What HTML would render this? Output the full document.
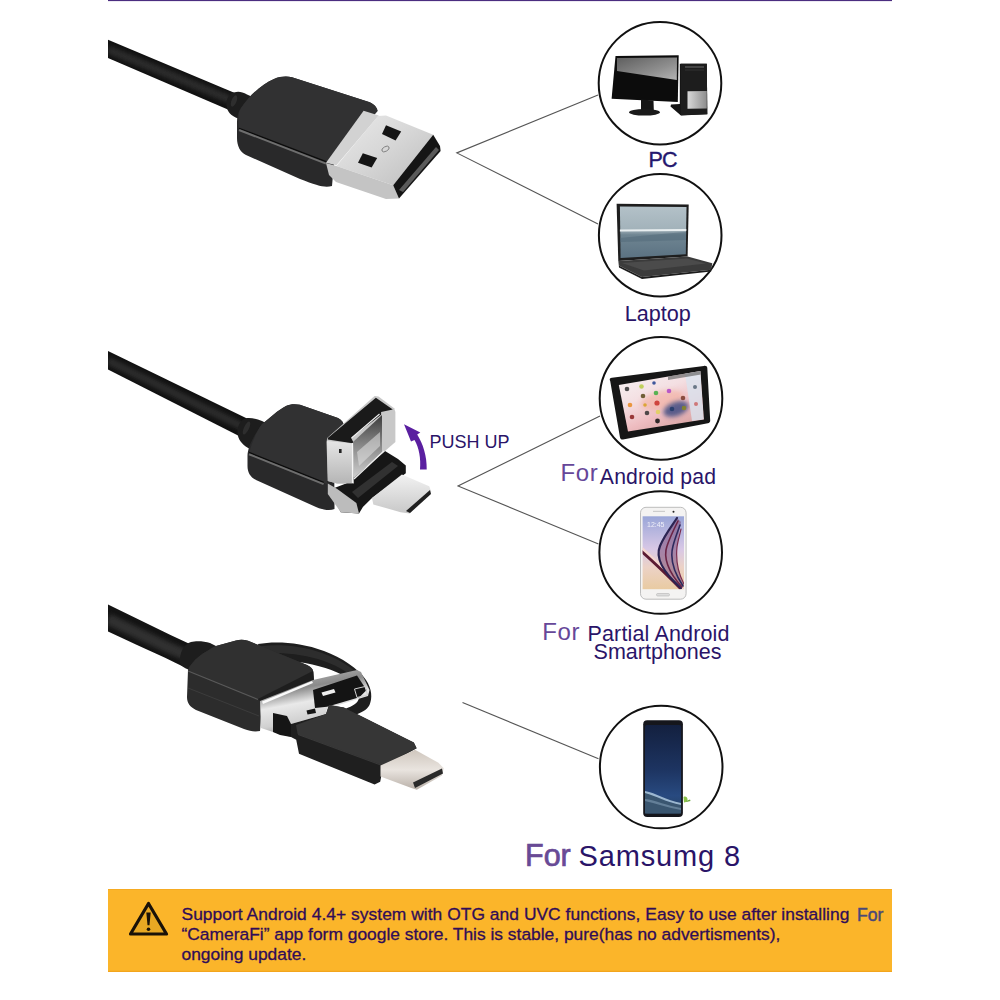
<!DOCTYPE html>
<html><head><meta charset="utf-8"><style>
html,body{margin:0;padding:0;background:#fff;width:1000px;height:1000px;overflow:hidden}
svg{display:block}
text{font-family:"Liberation Sans",sans-serif}
</style></head><body>
<svg width="1000" height="1000" viewBox="0 0 1000 1000">
<defs>
<linearGradient id="shellin" x1="0" y1="0" x2="0" y2="1"><stop offset="0" stop-color="#3c3c3c"/><stop offset="0.5" stop-color="#8a8a8a"/><stop offset="1" stop-color="#d0d0d0"/></linearGradient>
<clipPath id="cl1"><path d="M108,39.8 L236,93.5 L229,110 L108,58 Z"/></clipPath>
<clipPath id="cl2"><path d="M108,351 L247,418.5 L240,436.5 L108,369.5 Z"/></clipPath>
<clipPath id="cl3"><path d="M108,604.5 L150,625 Q170,635 192,645 L184,667 C160,655 130,642 108,631.5 Z"/></clipPath>
<clipPath id="s6clip"><rect x="642.6" y="516.3" width="41.4" height="72.9"/></clipPath>
<filter id="blur2" x="-50%" y="-50%" width="200%" height="200%"><feGaussianBlur stdDeviation="2"/></filter>
<filter id="blur1" x="-50%" y="-50%" width="200%" height="200%"><feGaussianBlur stdDeviation="0.6"/></filter>
<clipPath id="tabclip"><path d="M618.8,384.9 L700.4,371.1 L703.9,419.4 L628,431.5 Z"/></clipPath>

<linearGradient id="pcscr" x1="0" y1="0" x2="1" y2="1">
<stop offset="0" stop-color="#5e5e5e"/><stop offset="0.6" stop-color="#8e8e8e"/><stop offset="1" stop-color="#b4b4b4"/>
</linearGradient>
<linearGradient id="pcbay" x1="0" y1="0" x2="1" y2="0">
<stop offset="0" stop-color="#d9d9d9"/><stop offset="1" stop-color="#8d8d8d"/>
</linearGradient>
<linearGradient id="lapscr" x1="0" y1="0" x2="0" y2="1">
<stop offset="0" stop-color="#b3c1c8"/><stop offset="0.45" stop-color="#a2b2ba"/><stop offset="0.55" stop-color="#6f8592"/><stop offset="1" stop-color="#5b7282"/>
</linearGradient>
<linearGradient id="tabscr" x1="0" y1="0" x2="0.6" y2="1">
<stop offset="0" stop-color="#f7f5f6"/><stop offset="0.45" stop-color="#f4dfe2"/><stop offset="0.75" stop-color="#eebcc0"/><stop offset="1" stop-color="#d9a6a6"/>
</linearGradient>
<linearGradient id="s6scr" x1="0" y1="0" x2="0" y2="1">
<stop offset="0" stop-color="#9aa6d8"/><stop offset="0.45" stop-color="#d8c8e6"/><stop offset="0.7" stop-color="#ecd2c6"/><stop offset="1" stop-color="#e9cba2"/>
</linearGradient>
<linearGradient id="s8scr" x1="0" y1="0" x2="0" y2="1">
<stop offset="0" stop-color="#13203f"/><stop offset="0.5" stop-color="#1d3461"/><stop offset="0.8" stop-color="#284a80"/><stop offset="1" stop-color="#25405e"/>
</linearGradient>

<linearGradient id="met2" x1="0" y1="0" x2="0" y2="1">
<stop offset="0" stop-color="#f2f2f2"/><stop offset="1" stop-color="#c8c8c8"/>
</linearGradient>
<linearGradient id="met3" x1="0" y1="0" x2="0" y2="1">
<stop offset="0" stop-color="#e5e5e5"/><stop offset="1" stop-color="#b5b5b5"/>
</linearGradient>
<linearGradient id="met4" x1="0" y1="0" x2="0.3" y2="1">
<stop offset="0" stop-color="#c9c9c9"/><stop offset="0.35" stop-color="#8a8a8a"/><stop offset="0.55" stop-color="#e9e9e9"/><stop offset="0.8" stop-color="#d0d0d0"/><stop offset="1" stop-color="#8c8c8c"/>
</linearGradient>
<linearGradient id="met5" x1="0" y1="0" x2="0" y2="1">
<stop offset="0" stop-color="#cfc6bd"/><stop offset="0.5" stop-color="#e9e4df"/><stop offset="1" stop-color="#b9b0a8"/>
</linearGradient>

<linearGradient id="cab1" x1="0" y1="0" x2="0.15" y2="1">
<stop offset="0" stop-color="#111"/><stop offset="0.45" stop-color="#2b2b2b"/><stop offset="1" stop-color="#121212"/>
</linearGradient>
<linearGradient id="met1" x1="0" y1="0" x2="1" y2="1">
<stop offset="0" stop-color="#eaeaea"/><stop offset="0.5" stop-color="#d6d6d6"/><stop offset="1" stop-color="#bdbdbd"/>
</linearGradient>
</defs>
<rect x="0" y="0" width="1000" height="1000" fill="#fff"/>
<!-- top purple line -->
<rect x="108" y="0" width="784" height="1.1" fill="#4b2d80"/>

<!-- connector lines -->
<g stroke="#555" stroke-width="1.1" fill="none">
<polyline points="598,95 456.8,152.9 598,224"/>
<polyline points="600,416 458,486 598.5,544"/>
<line x1="462.5" y1="702.5" x2="598.5" y2="758.7"/>
</g>

<!-- circles -->
<g stroke="#111" stroke-width="2" fill="#fff">
<circle cx="660" cy="83.2" r="61.3"/>
<circle cx="660.2" cy="235.2" r="61.3"/>
<circle cx="661" cy="398.4" r="61.3"/>
<circle cx="660.7" cy="552.5" r="61.3"/>
<circle cx="661.2" cy="767" r="61.3"/>
</g>


<!-- ===== DEVICES ===== -->
<!-- PC -->
<g id="pc">
<path d="M615.5,56 L678.7,55.3 L677.8,102 L611.6,98.8 Z" fill="#0c0c0c"/>
<path d="M617,58 L677,57.5 L676.8,80 L617,71 Z" fill="url(#pcscr)"/>
<path d="M641,99.5 L653.5,100.5 L653.8,110 L641,110 Z" fill="#151515"/>
<ellipse cx="644.5" cy="112.3" rx="15.5" ry="3.3" fill="#1a1a1a"/>
<path d="M679.8,63.7 L706.8,63.7 L707.3,114.3 L680.9,115.4 L670.5,106.6 L671,104.4 L679.8,104 Z" fill="#161616"/>
<path d="M681,63.7 L706.8,63.7 L707.3,114.3 L681,115.2 Z" fill="#1d1d1d"/>
<path d="M687.5,91.2 L706.8,91 L706.8,108.6 L687.5,108.8 Z" fill="url(#pcbay)"/>
<path d="M685,66 L704,66 L704,68 L685,68 Z" fill="#444"/>
<path d="M685,69.5 L704,69.5 L704,70.5 L685,70.5 Z" fill="#333"/>
</g>
<!-- Laptop -->
<g id="laptop">
<path d="M616.6,203.8 L688.7,204.4 L687.6,256.6 L618.3,261 Z" fill="#1e1e1e"/>
<path d="M619.9,206.6 L686.5,207 L685.8,254.2 L620.6,258 Z" fill="url(#lapscr)"/>
<path d="M619.9,229.5 L686.3,229 L686.3,231 L619.9,231.5 Z" fill="#e8eef0"/>
<path d="M620,238 C640,236 660,234 686,232 L686,240 C665,241 645,241 620,242 Z" fill="#4f6777" opacity="0.5"/>
<path d="M618.3,261 L687.6,256.6 L712.3,263.2 L711.2,269.8 L641.9,277 L618.8,265.4 Z" fill="#3b3b3b"/>
<path d="M622,263 L687,258.6 L706,263.5 L644,270.5 Z" fill="#4b4b4b"/>
<path d="M618.8,265.4 L641.9,277 L711.2,269.8 L711.2,271.5 L642,279 L619,267.5 Z" fill="#1c1c1c"/>
</g>
<!-- Tablet -->
<g id="tablet">
<path d="M610.2,381 C609,379 610,378 612,377.8 L703.9,365.9 C706,365.6 707.2,366.5 707.3,368 L710.2,420.5 C710.3,422 709.4,423 707.8,423.3 L623,439.5 C621.5,439.8 620.3,439 620,437.5 Z" fill="#161616"/>
<path d="M618.8,384.9 L700.4,371.1 L703.9,419.4 L628,431.5 Z" fill="url(#tabscr)"/>
<g clip-path="url(#tabclip)">
<ellipse cx="662" cy="400" rx="22" ry="9" fill="#f3b0a0" opacity="0.6" transform="rotate(-12 662 400)" filter="url(#blur2)"/>
<ellipse cx="676" cy="409" rx="13" ry="7" fill="#34457e" opacity="0.8" transform="rotate(-20 676 409)" filter="url(#blur2)"/>
<path d="M685,373.5 L700.4,371.1 L703.9,419.4 L692,421 Z" fill="#d9e4ef" opacity="0.8"/>
<path d="M668,376 L701,370.5 L701,374.5 L668,380 Z" fill="#6a6a6a" opacity="0.7"/>
</g>
<g opacity="0.85">
<circle cx="627" cy="389" r="2.3" fill="#333"/>
<circle cx="641.5" cy="386.5" r="2.3" fill="#b7cc44"/>
<circle cx="654" cy="383" r="1.8" fill="#1f3f8f"/>
<circle cx="656" cy="393" r="2.3" fill="#3fae3f"/>
<circle cx="669" cy="391" r="2.3" fill="#b046c8"/>
<circle cx="643" cy="396" r="2.3" fill="#5a4a1a"/>
<circle cx="657" cy="403" r="2.6" fill="#c9312a"/>
<circle cx="630" cy="405" r="2.3" fill="#e98a23"/>
<circle cx="645" cy="405" r="1.8" fill="#d8a020"/>
<circle cx="683" cy="398" r="2.3" fill="#7a3a2a"/>
<circle cx="672" cy="409" r="2.3" fill="#223a6a"/>
<circle cx="684" cy="408" r="2.3" fill="#882"/>
<circle cx="647" cy="413" r="2.3" fill="#333"/>
<circle cx="658" cy="412" r="2.3" fill="#e1d25a"/>
<circle cx="632" cy="417" r="2.3" fill="#8a1f1f"/>
<circle cx="657.5" cy="421" r="2.4" fill="#111"/>
<circle cx="695" cy="387" r="2" fill="#567"/>
<circle cx="696" cy="404" r="2" fill="#c66"/>
</g>
</g>
<!-- Galaxy S6 -->
<g id="s6">
<rect x="640.5" y="507.3" width="45.6" height="91.9" rx="5.5" fill="#f4f3f2" stroke="#b5b5b5" stroke-width="0.9"/>
<rect x="642.6" y="516.3" width="41.4" height="72.9" fill="url(#s6scr)"/>
<g clip-path="url(#s6clip)" fill="none" stroke-linecap="round">
<path d="M641,549 C655,562 668,574 681,588" stroke="#f4d6d0" stroke-width="5"/>
<path d="M641,551 C655,563 667,575 680,588" stroke="#5b1b33" stroke-width="3"/>
<path d="M681,588 C664,573 655,558 660,546 C664,536 671,527 677,518 L681,522 C679,532 678,540 677,547 C676,557 677,571 684,584 Z" fill="#7a4a78" stroke="none" opacity="0.55"/>
<path d="M681,588 C664,573 655,558 660,546 C664,536 671,527 677,518" stroke="#2b2452" stroke-width="2.2"/>
<path d="M682,587 C668,572 663,557 667,546 C670,537 674,529 678,521" stroke="#6b2446" stroke-width="1.6"/>
<path d="M683,586 C673,571 670,557 673,546 C675,538 678,531 680,525" stroke="#2d2a5e" stroke-width="1.6"/>
<path d="M684,584 C677,571 676,557 677,547 C678,540 680,534 681,529" stroke="#7a2c4e" stroke-width="1.2"/>
</g>
<rect x="656.5" y="593.5" width="13" height="2.5" rx="1.2" fill="#ddd" stroke="#aaa" stroke-width="0.5"/>
<circle cx="673.5" cy="511.7" r="1" fill="#222"/>
<rect x="653" y="510.8" width="12" height="1.2" fill="#ccc"/>
<text x="647" y="527" font-size="7" fill="#fff" opacity="0.8">12:45</text>
</g>
<!-- Galaxy S8 -->
<g id="s8">
<rect x="643.2" y="720.3" width="39.7" height="96.6" rx="4" fill="#15161c"/>
<rect x="645" y="725" width="36.1" height="88.4" rx="2" fill="url(#s8scr)"/>
<path d="M645,792 C655,795 665,802 681,805 L681,813.4 L645,813.4 Z" fill="#3a5670"/>
<path d="M645,799 C655,800 668,806 681,808 L681,810 C668,808 655,803 645,801 Z" fill="#7f9bb2" opacity="0.6"/>
<path d="M645,791 C656,793 666,800 681,803 L681,805 C666,802 656,796 645,793 Z" fill="#b9d3e6" opacity="0.8"/>
<path d="M683.5,797 c2,-1 4,0 4,2.5 c0,2 -2,3 -3.5,3 Z" fill="#8bc34a"/>
<path d="M686,801 l4,-1.5 l0.5,1.5 l-4,1 Z" fill="#6aa73a"/>
</g>

<!-- labels -->
<g fill="#2a1468">
<text x="648.6" y="166.5" font-size="21.5" fill="#24176e" stroke="#24176e" stroke-width="0.4" letter-spacing="-0.9">PC</text>
<text x="624.8" y="321.3" font-size="21.6">Laptop</text>
<text x="560.6" y="481" font-size="24" fill="#664799" letter-spacing="0.6">For</text>
<text x="599.8" y="483.8" font-size="21.2" letter-spacing="0.2">Android pad</text>
<text x="542.3" y="640.2" font-size="24" fill="#664799" letter-spacing="0.6">For</text>
<text x="587.5" y="640.5" font-size="21.5" letter-spacing="0.15">Partial Android</text>
<text x="593.6" y="659" font-size="21.5">Smartphones</text>
<text x="525" y="866.2" font-size="30.5" fill="#684a95" stroke="#684a95" stroke-width="0.7">For</text>
<text x="578.5" y="866" font-size="29" letter-spacing="0.85">Samsumg 8</text>
<text x="429.5" y="447.5" font-size="18">PUSH UP</text>
</g>

<!-- ===== CABLE 1 ===== -->
<g id="c1">
<path d="M108,39.8 L236,93.5 L229,110 L108,58 Z" fill="#121212"/>
<path d="M108,49.5 L231,100" stroke="#353535" stroke-width="8" opacity="0.75" filter="url(#blur2)" clip-path="url(#cl1)"/>
<path d="M227,108 C225,100 229,93 234,92.5 C238,91 242,91.6 247,94.5 L262,101 L254,122 L240,119 C233,117 228,113 227,108 Z" fill="#1d1d1d"/>
<ellipse cx="234" cy="101" rx="2.5" ry="6" fill="#3a3a3a" transform="rotate(22 234 101)" opacity="0.6"/>
<path d="M241,108 C250,95 262,84 274,79 C280,76.5 286,76 292,77.2 L369,102 C374,104 377,107 377.5,111 L334,163 L332,186 C325,188 318,186 300,179 L246,155 C240,152 237,146 237,138 L237,124 C237,117 238,112 241,108 Z" fill="#29292a"/>
<path d="M241,108 C250,95 262,84 274,79 C280,76.5 286,76 292,77.2 L369,102 C374,104 377,107 377.5,111 L328,163 L239,129 C238,120 238,113 241,108 Z" fill="#313132"/>
<path d="M239,128.3 L328,162.3" stroke="#0c0c0c" stroke-width="1.4"/>
<path d="M239,130 L326,163.6" stroke="#6e6e6e" stroke-width="2"/>
<!-- metal collar -->
<path d="M363.6,110.8 L378.8,115.6 L336.4,165.2 L326,162.8 Z" fill="#d2d2d2"/>
<!-- metal top face -->
<path d="M378,116 L386,115.4 L433.2,134.8 L393.2,185.2 L336.4,166 Z" fill="url(#met1)"/>
<!-- metal bottom/side -->
<path d="M326,163 L336.4,166 L393.2,185.2 L399,198.5 L386,199 L336,182 L329,175 Z" fill="#c4c4c4"/>
<!-- right slot face -->
<path d="M433.2,134.8 L440,146 L440.6,151 L399,198.5 L393.2,185.2 Z" fill="#151515"/>
<path d="M436,147 L439,150 L403,192 L399,190 Z" fill="#5a5a5a"/>
<!-- holes -->
<path d="M386,125.2 L401.2,131.6 L395.6,140.4 L382,134 Z" fill="#141414"/>
<path d="M362.8,153.2 L377.2,158 L371.6,167.6 L358,162.8 Z" fill="#141414"/>
<ellipse cx="385.5" cy="149" rx="4" ry="2.3" fill="none" stroke="#777" stroke-width="0.8" transform="rotate(-30 385.5 149)"/>
</g>


<!-- ===== CABLE 2 ===== -->
<g id="c2">
<path d="M108,351 L247,418.5 L240,436.5 L108,369.5 Z" fill="#121212"/>
<path d="M108,360.5 L243,427" stroke="#353535" stroke-width="8" opacity="0.75" filter="url(#blur2)" clip-path="url(#cl2)"/>
<path d="M238,436 C236,428 240,420 246,418.3 C250,417.5 256,418.6 262,421 L276,428 L262,452 L250,449 C244,446 239,441 238,436 Z" fill="#1d1d1d"/>
<ellipse cx="246.5" cy="428" rx="2.5" ry="7" fill="#3a3a3a" transform="rotate(26 246.5 428)" opacity="0.6"/>
<path d="M262,424 C270,418 278,410 286,406 C290,404 295,403.6 300,404.8 L338,418 C342,420 344,423 344,427 L334,440 L334.5,509 C330,511 323,510 316,507 L256,480 C250,477 247.5,472 247.5,466 L247.5,456 C247.5,449 252,438 262,424 Z" fill="#29292a"/>
<path d="M262,424 C270,418 278,410 286,406 C290,404 295,403.6 300,404.8 L338,418 C342,420 344,423 344,427 L328,440 L327,484 L249,453.5 C251,445 255,434 262,424 Z" fill="#313132"/>
<path d="M249,452.5 L323.6,482.4" stroke="#0c0c0c" stroke-width="1.4"/>
<path d="M249,454.2 L323.6,484.1" stroke="#6e6e6e" stroke-width="2"/>
<!-- micro-usb black holder -->
<path d="M346,483.6 L385,451.1 L398,458.9 L405.8,465.4 L405.8,473.2 L372,497.9 L362.9,507 L359,513.5 L340.8,512.2 L329.1,490.1 Z" fill="#161616"/>
<path d="M352,492 L392,462 L398,466 L358,498 Z" fill="#3d3d3d" opacity="0.7"/>
<!-- silver bottom piece -->
<path d="M327.8,483.6 L336.9,488.8 L356.4,503.1 L359,513.5 L340.8,512.2 L327.8,494 Z" fill="#bcbcbc"/>
<!-- micro usb tip -->
<path d="M372,497.9 L401.9,474.5 L429.2,486.2 L431.2,491.4 L430.5,494 L409.7,513.5 L400.6,512.2 L373.3,504.4 Z" fill="url(#met2)"/>
<path d="M430,490 L431,494 L410,513 L406,511 Z" fill="#202020"/>
<!-- flipped USB-A shell -->
<path d="M327.2,438.1 L374.6,395.9 L378.5,396.5 L394.1,408.2 L395.4,412.1 L395.4,442 L385,451.1 L346,483.6 L336.9,483.6 L327.8,481 L326.5,442 Z" fill="#c8c8c8"/>
<path d="M327.8,438.1 L375.9,397.8 L392.8,409.5 L381.1,412.1 L381.1,414.7 L351.2,438.1 L353.2,442 L352.5,443.3 L327.8,439.4 Z" fill="#1a1a1a"/>
<path d="M327,441 L352.5,443.5 L354,483.6 L337,483.6 L327.8,481 Z" fill="url(#met3)"/>
<path d="M353,442 L382,415 L382,452 L354,478 Z" fill="url(#shellin)"/>
<path d="M357,452 L380,432 L380,446 L359,466 Z" fill="#e2e2e2" opacity="0.55"/>
<path d="M351.5,438 L379.5,414" stroke="#f2f2f2" stroke-width="1.1"/>
<path d="M352.5,443 L352.5,483" stroke="#f4f4f4" stroke-width="1.2"/>
<path d="M354,479 L384,451" stroke="#f0f0f0" stroke-width="1.2"/>
<rect x="339" y="449" width="2.6" height="4" fill="#222"/>
<!-- push up arrow -->
<path d="M420,469.5 C421,458 419,448 414.5,440 L411,441.6 L404,424.2 L420.3,432.6 L417.2,434.6 C423,444 427,456 426.7,469.5 Z" fill="#5a1fa0"/>
</g>

<!-- ===== CABLE 3 ===== -->
<g id="c3">
<!-- ring strap -->
<path d="M258,644 C275,641 300,642 324,651 C342,658 358,668 366,680 C372,689 372.5,698 369.5,705 C367,710 361,713 352,716 L345,709 C353,706 358,703 359,698 C360,692 357,686 350,680 C340,672 325,667 305,663 C290,660 275,660 262,661 Z" fill="#1e1e1e"/>
<path d="M262,646 C280,644 303,646 322,653 C339,659 354,668 362,679 L357,681 C348,671 334,664 318,659 C300,654 280,652 262,653 Z" fill="#3a3a3a" opacity="0.55"/>
<!-- cable -->
<path d="M108,604.5 L150,625 Q170,635 192,645 L184,667 C160,655 130,642 108,631.5 Z" fill="#141414"/>
<path d="M108,619 L150,639 Q168,648 188,656" stroke="#3a3a3a" stroke-width="11" fill="none" opacity="0.75" filter="url(#blur2)" clip-path="url(#cl3)"/>
<path d="M180,663 C179,653 184,644 191,642 C196,640.5 204,641 210,643 L222,649 L210,674 L196,672 C188,670 181,667 180,663 Z" fill="#1d1d1d"/>
<!-- housing -->
<path d="M188,670 C192,660 204,652 216,646 L236,640.5 C240,639.5 244,639.6 248,640.8 L307,665 C311,667 313,669 313.5,672 L314,682 L262,702 L260,731 C254,732 250,731 244,729 L196,710 C190,707 187,703 187,697 Z" fill="#2c2c2c"/>
<path d="M188,670 C192,660 204,652 216,646 L236,640.5 C240,639.5 244,639.6 248,640.8 L307,665 C311,667 313,669 313,671 L258,699 L188,671 Z" fill="#303030"/>
<path d="M188,671 L258,699.5" stroke="#777" stroke-width="1.1" opacity="0.6"/>
<path d="M188,688 L259,716" stroke="#4a4a4a" stroke-width="0.9" opacity="0.6"/>
<path d="M258,699 L313,671 L314,681 L261,702 Z" fill="#1e1e1e"/>
<!-- metal -->
<path d="M260,701 L313,680 L357,670 L361,672 L369.5,690 L368,696 L327,708.5 L326,714 L291,724 L291,737 L273,732 L261,728 Z" fill="url(#met4)"/>
<path d="M313,690 L357,675.5 L366.6,690 L359.4,697.2 L327,706.8 L315,708 Z" fill="#141414"/>
<path d="M321.5,692.5 L334,689 L335.5,692.5 L323,696 Z" fill="#eee"/>
<path d="M354.5,689 L365,686.5 L367.5,695 L357,697.5 Z" fill="none" stroke="#d0d0d0" stroke-width="1"/>
<path d="M273,713 L287,716 L291,724 L291,737 L280,735 L273,732 Z" fill="#151515"/>
<path d="M306.5,710.5 L315,708.5 L316,713 L307.5,714.5 Z" fill="#151515"/>
<path d="M262,701.5 L312,681 L313,683 L263,704 Z" fill="#fafafa"/>
<!-- type-c body -->
<path d="M291,724 L326,714 L329,705 L343.8,707.6 L408.2,739.8 L413.8,742.6 L416.6,748.2 L383,767.8 L380.2,781.8 L374.6,784.6 L299,753.8 L296.2,739.8 L291,737 Z" fill="#1f1f1f"/>
<path d="M296,725 L326,714 L329,705 L343.8,707.6 L408.2,739.8 L413.8,742.6 L416.6,748.2 L382,765 L297.6,734 Z" fill="#363636"/>
<path d="M298,734.5 L382,765.5" stroke="#555" stroke-width="0.8" opacity="0.6"/>
<!-- type-c tip -->
<path d="M380.5,765.5 L415,749.8 L438.4,762.8 L443.8,768.2 L442,775.4 L416.8,789.8 L411.4,788 L380.5,776.5 Z" fill="url(#met5)"/>
<path d="M413,782.6 L442,768.5 L443,773.6 L415,788 Z" fill="#2a2a2a"/>
</g>

<!-- bottom banner -->
<rect x="108" y="889" width="784" height="83" fill="#fbb52a"/>
<rect x="108" y="970.8" width="784" height="1.2" fill="#f3a51c"/>
<rect x="108" y="889" width="784" height="1" fill="#f6ab22"/>
<g fill="#300c58" stroke="#300c58" stroke-width="0.3" font-size="17.4">
<text x="181.5" y="920.2" letter-spacing="0.04">Support Android 4.4+ system with OTG and UVC functions, Easy to use after installing</text>
<text x="181.5" y="940">“CameraFi” app form google store. This is stable, pure(has no advertisments),</text>
<text x="181.5" y="960">ongoing update.</text>
</g>
<text x="857" y="921" font-size="17.6" fill="#4a4878" stroke="#4a4878" stroke-width="0.45">For</text>
<!-- warning triangle -->
<g>
<path d="M148.5,903.5 L166.5,934 L130.5,934 Z" fill="#e8a823" stroke="#1a1208" stroke-width="3.2" stroke-linejoin="round"/>
<path d="M146.3,912.5 h4.4 l-1.2,12.8 h-2 Z" fill="#1a1208"/>
<circle cx="148.5" cy="929.2" r="1.8" fill="#1a1208"/>
</g>

</svg>
</body></html>
